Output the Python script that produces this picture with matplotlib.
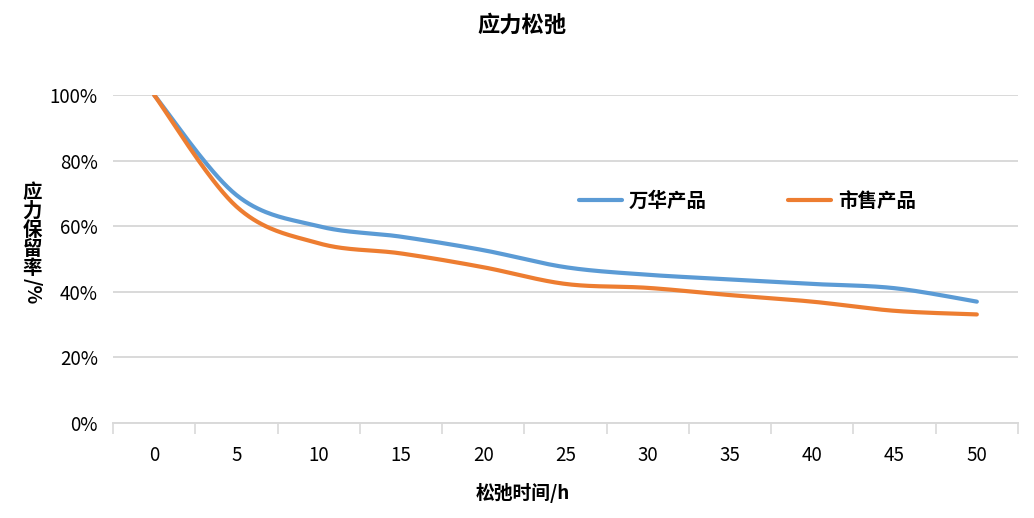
import numpy as np
import matplotlib
matplotlib.use("Agg")
import matplotlib.pyplot as plt

plt.rcParams["font.family"] = ["Noto Sans CJK SC", "DejaVu Sans"]

# 数据
hours = [0, 5, 10, 15, 20, 25, 30, 35, 40, 45, 50]
wanhua = [100, 69.5, 60.0, 56.8, 52.7, 47.5, 45.2, 43.8, 42.4, 41.1, 37.0]
market = [100, 66.0, 54.8, 51.7, 47.5, 42.4, 41.2, 39.0, 37.0, 34.2, 33.1]
series_names = ["万华产品", "市售产品"]
yticks = [0, 20, 40, 60, 80, 100]

BLUE = "#5B9BD5"
ORANGE = "#ED7D31"
GRID = "#D9D9D9"


def smooth(xs, ys, n=40):
    """Excel 风格的平滑曲线（Catmull-Rom -> 三次 Bezier）。"""
    p = np.column_stack([xs, ys]).astype(float)
    m = len(p)
    out = []
    t = np.linspace(0, 1, n)[:, None]
    for i in range(m - 1):
        p0 = p[max(i - 1, 0)]
        p1, p2 = p[i], p[i + 1]
        p3 = p[min(i + 2, m - 1)]
        c1 = p1 + (p2 - p0) / 6
        c2 = p2 - (p3 - p1) / 6
        seg = ((1 - t) ** 3 * p1 + 3 * (1 - t) ** 2 * t * c1
               + 3 * (1 - t) * t ** 2 * c2 + t ** 3 * p2)
        out.append(seg if i == 0 else seg[1:])
    pts = np.vstack(out)
    return pts[:, 0], pts[:, 1]


fig = plt.figure(figsize=(10.34, 5.18), dpi=100)
ax = fig.add_axes([0.1093, 0.1834, 0.8752, 0.6332])

for ys, c, name in zip([wanhua, market], [BLUE, ORANGE], series_names):
    sx, sy = smooth(hours, ys)
    ax.plot(sx, sy, color=c, lw=3.0, label=name, solid_capstyle="round",
            zorder=3)

ax.set_xlim(-2.5, 52.5)
ax.set_ylim(0, 100)
ax.set_yticks(yticks)
ax.set_yticklabels([f"{v}%" for v in yticks])
ax.set_xticks(hours)
ax.set_xticks(np.arange(-2.5, 53, 5), minor=True)
ax.tick_params(axis="x", which="major", length=0, pad=16, labelsize=13.5,
               colors="#000000")
ax.tick_params(axis="x", which="minor", length=8, width=1.2, color=GRID)
ax.tick_params(axis="y", length=0, pad=11, labelsize=13.5)

ax.grid(axis="y", color=GRID, lw=1.4, zorder=0)
for s in ["top", "right", "left"]:
    ax.spines[s].set_visible(False)
ax.spines["bottom"].set_color(GRID)
ax.spines["bottom"].set_linewidth(1.4)

fig.text(0.505, 0.952, "应力松弛", ha="center", va="center", fontsize=16,
         fontweight="bold")
fig.text(0.506, 0.049, "松弛时间/h", ha="center", va="center", fontsize=13.5,
         fontweight="bold")
fig.text(0.031, 0.555, "应\n力\n保\n留\n率", ha="center", va="center",
         fontsize=14, fontweight="bold", linespacing=1.0)
fig.text(0.031, 0.438, "/%", ha="center", va="center", fontsize=14,
         rotation=270, fontweight="bold")

fig.legend(loc="center", bbox_to_anchor=(0.723, 0.612), ncol=2,
           frameon=False, handlelength=2.2, handletextpad=0.35,
           columnspacing=4.2, prop={"weight": "bold", "size": 14})

fig.savefig("out.png", dpi=100)
